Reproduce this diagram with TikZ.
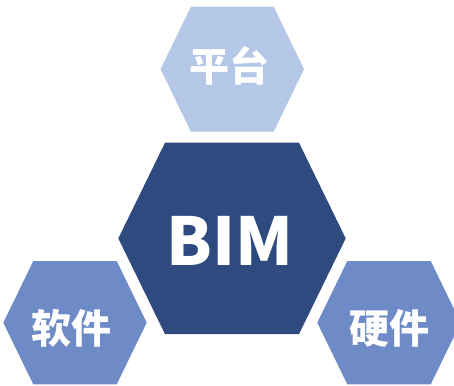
\documentclass[tikz,border=0pt]{standalone}
\usepackage{fontspec}
\newfontfamily\cjk{Noto Sans CJK SC}
\definecolor{hexdark}{HTML}{2F4A7E}
\definecolor{hexlight}{HTML}{B4C7E7}
\definecolor{hexmid}{HTML}{6E8BC8}
\tikzset{
  lbl/.style={text=white, inner sep=0pt, font=\cjk\bfseries\fontsize{40}{40}\selectfont},
  biglbl/.style={text=white, inner sep=0pt, font=\cjk\bfseries\fontsize{66}{66}\selectfont}
}
\newcommand\myhex[6]{% color, cx, cy, half-width, half-height, inset
  \fill[#1] (#2-#4,#3) -- (#2-#4+#6,#3-#5) -- (#2+#4-#6,#3-#5) -- (#2+#4,#3)
    -- (#2+#4-#6,#3+#5) -- (#2-#4+#6,#3+#5) -- cycle;}
\begin{document}
\begin{tikzpicture}[x=1pt,y=-1pt]
\useasboundingbox (0,0) rectangle (454,385);
\clip (0,0) rectangle (454,385);
\myhex{hexlight}{232.3}{69.2}{71.7}{62.5}{30.3}
\myhex{hexmid}{75}{322.7}{71.7}{61.7}{30}
\myhex{hexmid}{389}{322.7}{71.7}{61.7}{30}
\myhex{hexdark}{232}{238.4}{113.7}{95.7}{46.7}
\node[lbl] (pt) at (229,66) {平台};
\node[lbl] (rj) at (71.5,328.5) {软件};
\node[lbl] (yj) at (389.5,328.5) {硬件};
\node[biglbl] (bim) at (230,240.5) {BIM};
\end{tikzpicture}
\end{document}
